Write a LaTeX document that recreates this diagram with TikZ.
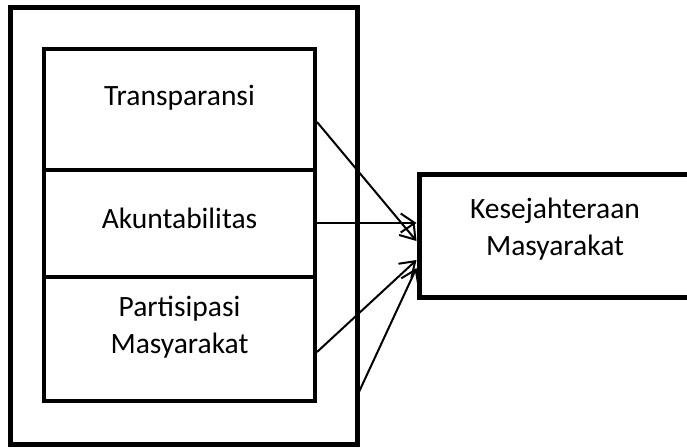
\documentclass[tikz,border=0pt]{standalone}
\usepackage{fontspec}
\setmainfont{Carlito}
\usetikzlibrary{arrows.meta}
\begin{document}
\begin{tikzpicture}[x=1pt,y=-1pt,
  box/.style={draw=black, line width=4.5pt, inner sep=0pt, outer sep=0pt, fill=none},
  lbl/.style={inner sep=0pt, anchor=base, font=\fontsize{29.5}{36}\selectfont},
  arr/.style={draw=black, line width=2pt, -{Straight Barb[length=14pt,width=19pt,line width=2pt]}}]
\clip (0,0) rectangle (687,447);
\fill[white] (0,0) rectangle (687,447);
% outer frame
\node[box, line width=5pt, minimum width=347pt, minimum height=436.5pt] (outer) at (183.5,225.75) {};
% inner boxes
\node[box, minimum width=271pt, minimum height=121pt] (b1) at (179.5,109.5) {};
\node[box, minimum width=271pt, minimum height=107pt] (b2) at (179.5,223.5) {};
\node[box, minimum width=271pt, minimum height=124pt] (b3) at (179.5,339) {};
% target box
\node[box, line width=5pt, minimum width=273pt, minimum height=123pt] (t) at (555.5,236) {};
% labels
\node[lbl] (l1) at (179.5,105) {Transparansi};
\node[lbl] (l2) at (179.5,228) {Akuntabilitas};
\node[lbl] (l3) at (179.5,316) {Partisipasi};
\node[lbl] (l4) at (179.5,353) {Masyarakat};
\node[lbl] (l5) at (555,218) {Kesejahteraan};
\node[lbl] (l6) at (555,255) {Masyarakat};
% connector end points
\coordinate (s1) at (317,122);
\coordinate (s2) at (317,223);
\coordinate (s3) at (317,352);
\coordinate (s4) at (358,394);
\coordinate (e1) at (416.5,241);
\coordinate (e2) at (416.5,223);
\coordinate (e3) at (416.5,260);
\coordinate (e4) at (416.5,268);
\draw[arr] (s1) -- (e1);
\draw[arr] (s2) -- (e2);
\draw[arr] (s3) -- (e3);
\draw[arr] (s4) -- (e4);
\end{tikzpicture}
\end{document}
